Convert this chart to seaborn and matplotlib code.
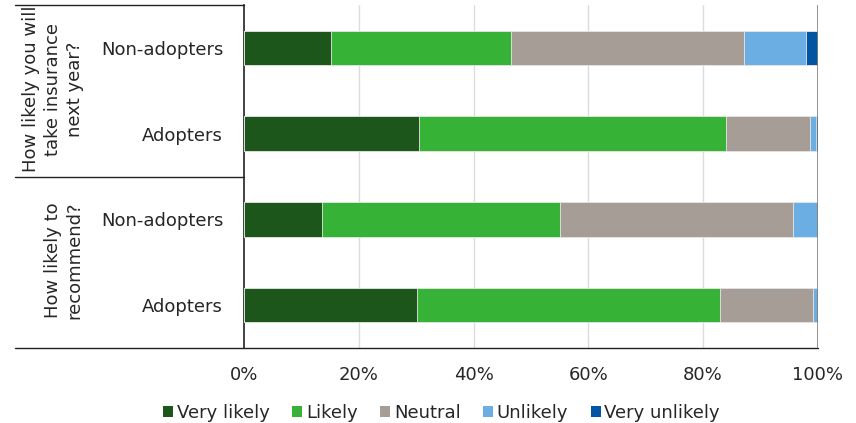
import matplotlib
matplotlib.use("Agg")
import matplotlib.pyplot as plt
from matplotlib.patches import Patch
from matplotlib.lines import Line2D
import numpy as np
import pandas as pd
import seaborn as sns

# rows top to bottom
row_keys = ["ins_non", "ins_ad", "rec_non", "rec_ad"]
row_labels = ["Non-adopters", "Adopters", "Non-adopters", "Adopters"]
groups = ["How likely you will\ntake insurance\nnext year?", "How likely to\nrecommend?"]

answers = ["Very likely", "Likely", "Neutral", "Unlikely", "Very unlikely"]
very_likely = [15.2, 30.5, 13.6, 30.1]
likely = [31.3, 53.4, 41.5, 52.8]
neutral = [40.7, 14.8, 40.6, 16.2]
unlikely = [10.7, 1.0, 4.3, 0.9]
very_unlikely = [2.1, 0.3, 0.0, 0.0]

colors = ["#1D561B", "#36B236", "#A69D97", "#6AAEE3", "#0255A2"]

df = pd.DataFrame({"row": row_keys, "Very likely": very_likely, "Likely": likely,
                   "Neutral": neutral, "Unlikely": unlikely, "Very unlikely": very_unlikely})
cum = df[answers].cumsum(axis=1)

sns.set_style("white")
plt.rcParams["font.family"] = ["DejaVu Sans"]
FS = 13
TXT = "#262626"

fig = plt.figure(figsize=(8.56, 4.23), dpi=100)
ax = fig.add_axes([0.285, 0.1773, 0.6705, 0.8108])

# draw cumulative bars from the back so earlier segments sit on top
for ans, col in reversed(list(zip(answers, colors))):
    sns.barplot(x=cum[ans].values, y=df["row"], order=row_keys, orient="h",
                color=col, width=0.4, edgecolor="#e8e8e8", linewidth=0.6,
                saturation=1, ax=ax, zorder=3)

ax.set_xlim(0, 100)
ax.set_ylim(3.5, -0.5)
ax.set_xticks([0, 20, 40, 60, 80, 100])
ax.set_xticklabels(["0%", "20%", "40%", "60%", "80%", "100%"], fontsize=FS, color=TXT)
ax.set_yticks(range(4))
ax.set_yticklabels(row_labels, fontsize=FS, color=TXT)
ax.tick_params(axis="x", length=0, pad=13)
ax.tick_params(axis="y", length=0, pad=15)
ax.set_xlabel("")
ax.set_ylabel("")
for x in [20, 40, 60, 80]:
    ax.axvline(x, color="#dcdcdc", lw=1, zorder=0)
ax.axvline(100, color="#7f7f7f", lw=1.2, zorder=4)

for s in ["top", "right"]:
    ax.spines[s].set_visible(False)
ax.spines["left"].set_color("#222222")
ax.spines["left"].set_linewidth(1.2)
ax.spines["bottom"].set_visible(False)

# group separator lines
tr = ax.transAxes
ax.add_line(Line2D([-0.399, 1.0], [0, 0], transform=tr, color="#222222", lw=1, clip_on=False))
ax.add_line(Line2D([-0.399, 0], [0.5, 0.5], transform=tr, color="#222222", lw=1, clip_on=False))
ax.add_line(Line2D([-0.399, 0], [1, 1], transform=tr, color="#222222", lw=1, clip_on=False))

ax.text(-0.333, 0.755, groups[0], transform=tr, rotation=90, ha="center", va="center",
        fontsize=FS, color=TXT, linespacing=1.3)
ax.text(-0.314, 0.257, groups[1], transform=tr, rotation=90, ha="center", va="center",
        fontsize=FS, color=TXT, linespacing=1.3)

handles = [Patch(facecolor=c, edgecolor="none", label=a) for a, c in zip(answers, colors)]
fig.legend(handles=handles, loc="lower center", bbox_to_anchor=(0.516, -0.035), ncol=5,
           frameon=False, fontsize=FS, handlelength=0.55, handleheight=0.55,
           handletextpad=0.2, columnspacing=1.25)

fig.savefig("out.png", dpi=100)
